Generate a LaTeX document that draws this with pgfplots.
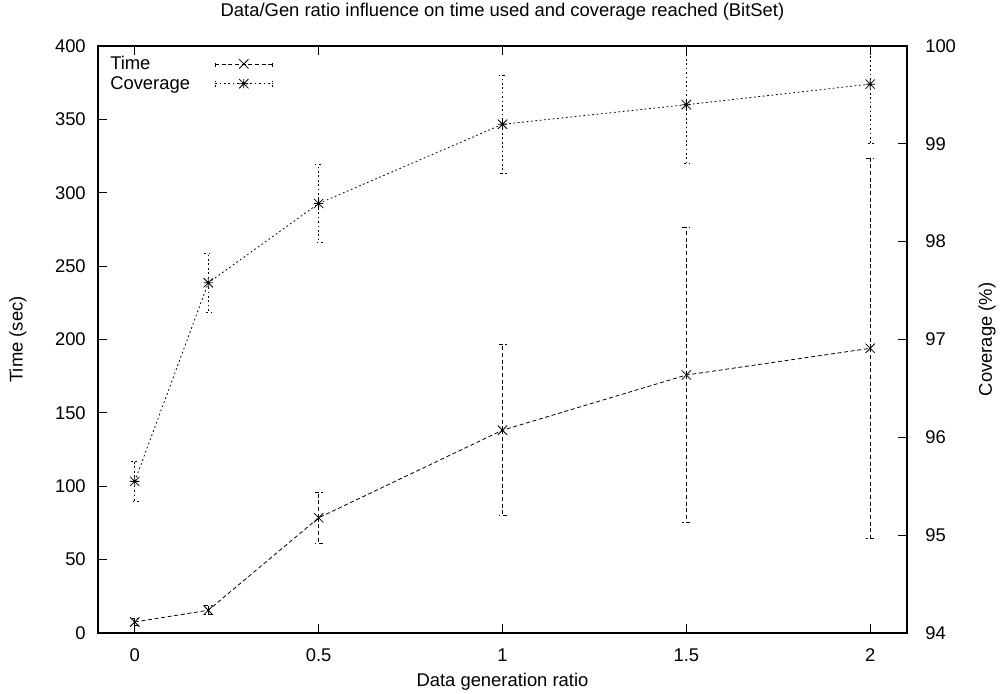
\documentclass[border=0pt]{standalone}
\usepackage{fontspec}
\setmainfont{Liberation Sans}
\usepackage{pgfplots}
\pgfplotsset{compat=1.18}

% gnuplot-like point types: cross and star (cross + plus)
\pgfdeclareplotmark{gpx}{%
  \pgfpathmoveto{\pgfqpoint{-\pgfplotmarksize}{-\pgfplotmarksize}}%
  \pgfpathlineto{\pgfqpoint{\pgfplotmarksize}{\pgfplotmarksize}}%
  \pgfpathmoveto{\pgfqpoint{-\pgfplotmarksize}{\pgfplotmarksize}}%
  \pgfpathlineto{\pgfqpoint{\pgfplotmarksize}{-\pgfplotmarksize}}%
  \pgfusepathqstroke}
\pgfdeclareplotmark{gpstar}{%
  \pgfpathmoveto{\pgfqpoint{-\pgfplotmarksize}{-\pgfplotmarksize}}%
  \pgfpathlineto{\pgfqpoint{\pgfplotmarksize}{\pgfplotmarksize}}%
  \pgfpathmoveto{\pgfqpoint{-\pgfplotmarksize}{\pgfplotmarksize}}%
  \pgfpathlineto{\pgfqpoint{\pgfplotmarksize}{-\pgfplotmarksize}}%
  \pgfpathmoveto{\pgfqpoint{-\pgfplotmarksize}{0pt}}%
  \pgfpathlineto{\pgfqpoint{\pgfplotmarksize}{0pt}}%
  \pgfpathmoveto{\pgfqpoint{0pt}{-\pgfplotmarksize}}%
  \pgfpathlineto{\pgfqpoint{0pt}{\pgfplotmarksize}}%
  \pgfusepathqstroke}

% ratio, mean time (sec), error
\pgfplotstableread{
x     y      e
0     7.5    2.5
0.2   15.5   3
0.5   78.5   17.5
1     138.2  58.3
1.5   175.8  100.7
2     194.0  129.7
}\timedata
% ratio, mean coverage (%), error
\pgfplotstableread{
x     y      e
0     95.55  0.20
0.2   97.58  0.30
0.5   98.39  0.40
1     99.20  0.50
1.5   99.40  0.60
2     99.61  0.61
}\covdata

\tikzset{
  timestyle/.style={black, line width=0.6pt, dash pattern=on 3pt off 2pt},
  covstyle/.style={black, line width=0.6pt, dash pattern=on 1.3pt off 2pt},
}

\pgfplotsset{
  gp/.style={
    scale only axis,
    width=606.75pt, height=440.25pt,
    at={(0pt,0pt)}, anchor=south west,
    xmin=-0.1, xmax=2.1,
    tick align=inside,
    major tick length=6.5pt,
    axis line style={line width=1pt},
    every tick/.style={black, line width=0.8pt},
    tick label style={font=\fontsize{13.8}{16}\selectfont},
    label style={font=\fontsize{13.8}{16}\selectfont},
    /pgf/number format/assume math mode=true,
    clip=true,
  },
  legend image code/.code={%
    \draw[mark repeat=2,mark phase=2,#1] plot coordinates {(0pt,0pt) (21.5pt,0pt) (43pt,0pt)};
    \draw[#1] (0pt,-2.2pt) -- (0pt,2.2pt) (43pt,-2.2pt) -- (43pt,2.2pt);
  },
}

\begin{document}
\begin{tikzpicture}
\useasboundingbox (-73.5pt,-45pt) rectangle (676.5pt,474.75pt);

\begin{axis}[gp,
  ymin=0, ymax=400,
  ytick={0,50,...,400},
  xtick={0,0.5,1,1.5,2},
  xticklabels={0,0.5,1,1.5,2},
  xtick pos=both,
  ytick pos=left,
  xticklabel style={anchor=center, yshift=-16.5pt},
  yticklabel style={anchor=east, inner sep=0pt, xshift=-9pt},
  xlabel={Data generation ratio},
  xlabel style={at={(axis description cs:0.5,-0.0835)}, anchor=center},
  ylabel={Time (sec)},
  ylabel style={at={(axis description cs:-0.0989,0.5)}, anchor=center, rotate=0},
  title={Data/Gen ratio influence on time used and coverage reached (BitSet)},
  every axis title shift=0pt,
  title style={at={(axis description cs:0.5,1.0579)}, anchor=center, font=\fontsize{13.8}{16}\selectfont},
  legend style={at={(axis description cs:0,1)}, anchor=north west,
    xshift=4.5pt, yshift=-4pt, draw=none, fill=none,
    font=\fontsize{13.8}{16}\selectfont,
    nodes={inner sep=1.5pt}, row sep=0.5pt, column sep=17pt},
  legend plot pos=right,
  legend cell align=left,
]
\addplot[timestyle, mark=gpx, mark size=3.5pt, mark options={solid, line width=0.6pt},
  error bars/.cd, y dir=both, y explicit,
  error bar style={timestyle},
  error mark options={rotate=90, mark size=3pt, timestyle}]
  table[x=x, y=y, y error=e] {\timedata};
\addlegendentry{Time}
\addlegendimage{covstyle, mark=gpstar, mark size=3.5pt, mark options={solid, line width=0.6pt}}
\addlegendentry{Coverage}
\end{axis}

\begin{axis}[gp,
  ymin=94, ymax=100,
  ytick={94,95,...,100},
  axis x line=none,
  axis y line*=right,
  y axis line style={line width=1pt},
  yticklabel style={anchor=west, inner sep=0pt, xshift=13.5pt},
  ylabel={Coverage (\%)},
  ylabel style={at={(axis description cs:1.0989,0.5)}, anchor=center, rotate=0},
]
\addplot[covstyle, mark=gpstar, mark size=3.5pt, mark options={solid, line width=0.6pt},
  error bars/.cd, y dir=both, y explicit,
  error bar style={covstyle},
  error mark options={rotate=90, mark size=3pt, covstyle}]
  table[x=x, y=y, y error=e] {\covdata};
\end{axis}
\end{tikzpicture}
\end{document}
